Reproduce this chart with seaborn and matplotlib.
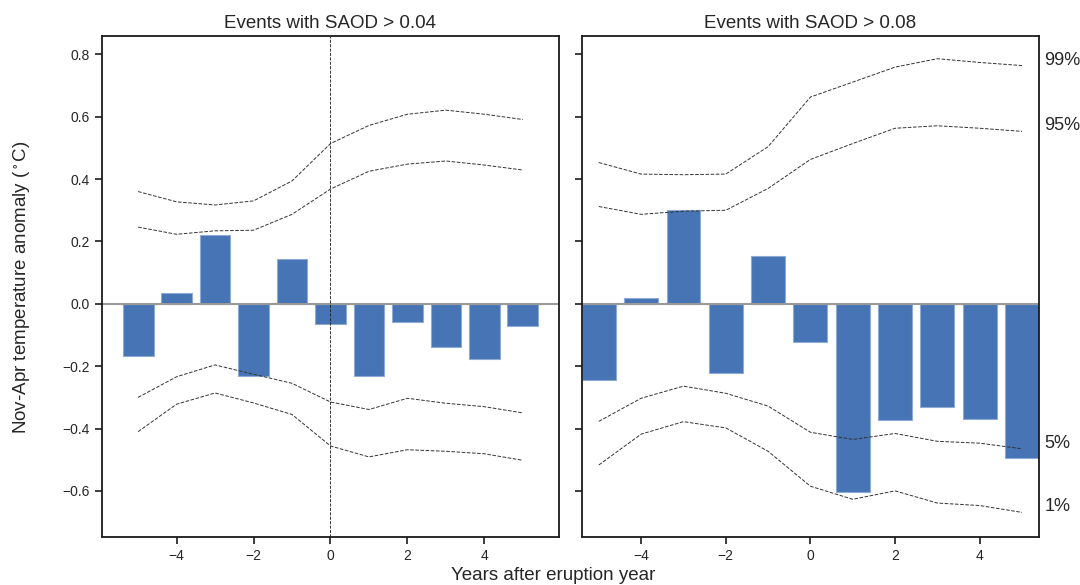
import numpy as np
import pandas as pd
import seaborn as sns
import matplotlib.pyplot as plt

# years relative to eruption
years = [-5, -4, -3, -2, -1, 0, 1, 2, 3, 4, 5]

# composite anomalies, events with SAOD > 0.04
anom_04 = [-0.166, 0.035, 0.220, -0.230, 0.144, -0.066, -0.232, -0.058, -0.139, -0.177, -0.072]
p99_04 = [0.360, 0.327, 0.317, 0.330, 0.394, 0.514, 0.572, 0.608, 0.621, 0.608, 0.591]
p95_04 = [0.246, 0.223, 0.234, 0.236, 0.287, 0.368, 0.425, 0.448, 0.458, 0.445, 0.429]
p05_04 = [-0.300, -0.234, -0.196, -0.226, -0.255, -0.315, -0.339, -0.303, -0.319, -0.330, -0.350]
p01_04 = [-0.410, -0.322, -0.286, -0.318, -0.355, -0.456, -0.491, -0.468, -0.473, -0.481, -0.502]

# composite anomalies, events with SAOD > 0.08
anom_08 = [-0.245, 0.017, 0.302, -0.222, 0.152, -0.123, -0.605, -0.373, -0.331, -0.370, -0.495]
p99_08 = [0.453, 0.416, 0.414, 0.416, 0.504, 0.663, 0.711, 0.759, 0.786, 0.774, 0.764]
p95_08 = [0.312, 0.287, 0.297, 0.300, 0.370, 0.463, 0.514, 0.563, 0.571, 0.563, 0.553]
p05_08 = [-0.377, -0.303, -0.264, -0.287, -0.328, -0.412, -0.435, -0.416, -0.441, -0.447, -0.465]
p01_08 = [-0.517, -0.418, -0.378, -0.398, -0.473, -0.585, -0.627, -0.600, -0.639, -0.647, -0.669]

pct_labels = ['99%', '95%', '5%', '1%']

sns.set_theme(style='ticks')
plt.rcParams['font.family'] = ['Liberation Sans', 'DejaVu Sans']
plt.rcParams['mathtext.default'] = 'regular'

fig, axes = plt.subplots(1, 2, figsize=(10.8, 5.85), dpi=100, sharey=True)
fig.subplots_adjust(left=0.0944, right=0.962, top=0.938, bottom=0.082, wspace=0.05)

panels = [
    (axes[0], 'Events with SAOD > 0.04', anom_04, [p99_04, p95_04, p05_04, p01_04]),
    (axes[1], 'Events with SAOD > 0.08', anom_08, [p99_08, p95_08, p05_08, p01_08]),
]

for ax, title, anom, pcts in panels:
    df = pd.DataFrame({'year': years, 'anom': anom})
    sns.barplot(data=df, x='year', y='anom', native_scale=True, ax=ax,
                color='#4674b4', saturation=1, errorbar=None,
                edgecolor='#8eaad6', linewidth=0.8, width=0.8)
    for p in pcts:
        sns.lineplot(x=years, y=p, ax=ax, color='0.2', lw=0.7,
                     linestyle='--', zorder=3)
    ax.axhline(0, color='0.6', lw=1.5, zorder=2)
    ax.set_title(title, fontsize=13.5, color='0.15')
    ax.set_xlabel('')
    ax.set_ylabel('')
    ax.set_xticks([-4, -2, 0, 2, 4])
    ax.tick_params(labelsize=10, length=5)
    for sp in ax.spines.values():
        sp.set_color('0.1')
        sp.set_linewidth(1.3)

axes[0].axvline(0, color='k', ls='--', lw=0.6, zorder=3)
axes[0].set_xlim(-5.94, 5.94)
axes[1].set_xlim(-5.4, 5.4)
axes[0].set_ylim(-0.748, 0.858)
axes[0].set_yticks([-0.6, -0.4, -0.2, 0.0, 0.2, 0.4, 0.6, 0.8])

# percentile labels at the right end of the second panel
for lab, p in zip(pct_labels, [p99_08, p95_08, p05_08, p01_08]):
    axes[1].annotate(lab, xy=(years[-1], p[-1]), xytext=(16, 4),
                     textcoords='offset points', va='center', ha='left',
                     fontsize=13, color='0.15', annotation_clip=False)

fig.text(0.512, 0.016, 'Years after eruption year', ha='center', va='center',
         fontsize=13.5, color='0.15')
fig.text(0.02, 0.509, 'Nov-Apr temperature anomaly ($^\\circ$C)', rotation=90,
         ha='center', va='center', fontsize=13.5, color='0.15')

fig.savefig('out.png', dpi=100)
